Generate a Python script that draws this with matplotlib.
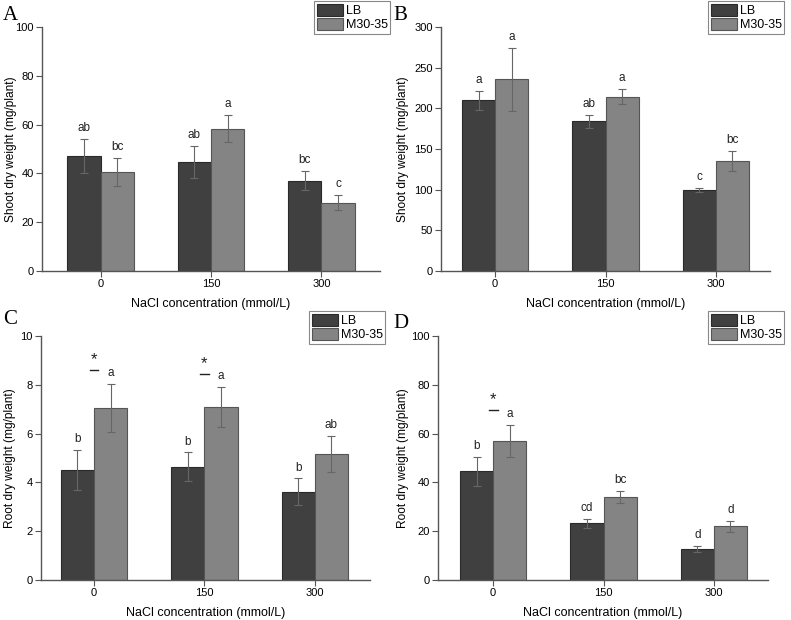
import matplotlib
matplotlib.use('Agg')
import matplotlib.pyplot as plt
import numpy as np
from matplotlib.patches import Patch

plt.rcParams['font.family'] = ['Liberation Sans', 'DejaVu Sans']

categories = ['0', '150', '300']
series_names = ['LB', 'M30-35']

# panel A - shoot dry weight
a_lb = [47.0, 44.8, 37.0]
a_lb_err = [7.0, 6.5, 4.0]
a_m = [40.6, 58.4, 28.0]
a_m_err = [5.6, 5.6, 3.0]
a_lb_letters = ['ab', 'ab', 'bc']
a_m_letters = ['bc', 'a', 'c']

# panel B - shoot dry weight
b_lb = [210.0, 184.0, 99.5]
b_lb_err = [11.5, 8.0, 2.5]
b_m = [235.5, 214.5, 135.5]
b_m_err = [38.5, 9.5, 12.0]
b_lb_letters = ['a', 'ab', 'c']
b_m_letters = ['a', 'a', 'bc']

# panel C - root dry weight
c_lb = [4.5, 4.65, 3.62]
c_lb_err = [0.83, 0.58, 0.54]
c_m = [7.05, 7.08, 5.15]
c_m_err = [0.97, 0.82, 0.74]
c_lb_letters = ['b', 'b', 'b']
c_m_letters = ['a', 'a', 'ab']
c_star = [8.6, 8.43, None]

# panel D - root dry weight
d_lb = [44.5, 23.3, 12.8]
d_lb_err = [6.0, 1.8, 1.2]
d_m = [57.0, 34.0, 22.0]
d_m_err = [6.5, 2.5, 2.2]
d_lb_letters = ['b', 'cd', 'd']
d_m_letters = ['a', 'bc', 'd']
d_star = [69.7, None, None]

dark = '#404040'
light = '#848484'
axcol = '#555555'

fig = plt.figure(figsize=(7.91, 6.2), dpi=100)


def panel(rect, label, lpos, legpos, lb, lb_err, m, m_err, lbl_lb, lbl_m,
          ymax, ystep, ylabel, xlim, ylab_x, star=None):
    ax = fig.add_axes(rect)
    x = np.arange(len(categories))
    w = 0.3
    ax.bar(x - w / 2, lb, w, color=dark, edgecolor='#2a2a2a', linewidth=0.8)
    ax.bar(x + w / 2, m, w, color=light, edgecolor='#555555', linewidth=0.8)
    ax.errorbar(x - w / 2, lb, yerr=lb_err, fmt='none', ecolor='#666666',
                elinewidth=0.8, capsize=3, capthick=0.8)
    ax.errorbar(x + w / 2, m, yerr=m_err, fmt='none', ecolor='#666666',
                elinewidth=0.8, capsize=3, capthick=0.8)
    off = ymax * 0.02
    for i in range(len(categories)):
        ax.text(x[i] - w / 2, lb[i] + lb_err[i] + off, lbl_lb[i],
                ha='center', va='bottom', fontsize=8.5, color='#222222')
        ax.text(x[i] + w / 2, m[i] + m_err[i] + off, lbl_m[i],
                ha='center', va='bottom', fontsize=8.5, color='#222222')
    if star is not None:
        for i, s in enumerate(star):
            if s is None:
                continue
            ax.plot([x[i] - 0.04, x[i] + 0.04], [s, s], color='#222222', lw=1)
            ax.text(x[i], s + ymax * 0.012, '*', ha='center', va='bottom',
                    fontsize=12, color='#222222')
    ax.set_xlim(*xlim)
    ax.set_ylim(0, ymax)
    ax.set_yticks(np.arange(0, ymax + ystep / 2, ystep))
    ax.set_xticks(x)
    ax.set_xticklabels(categories)
    ax.spines['top'].set_visible(False)
    ax.spines['right'].set_visible(False)
    for s in ['left', 'bottom']:
        ax.spines[s].set_color(axcol)
        ax.spines[s].set_linewidth(1.0)
    ax.tick_params(axis='both', direction='out', color=axcol, labelsize=8,
                   length=4, width=0.8, pad=2)
    ax.tick_params(axis='x', pad=1.5)
    ax.set_xlabel('NaCl concentration (mmol/L)', fontsize=9, labelpad=7)
    ax.set_ylabel(ylabel, fontsize=8.6)
    ax.yaxis.set_label_coords(ylab_x, 0.5)
    fig.text(lpos[0], lpos[1], label, fontsize=15, family='Liberation Serif',
             ha='left', va='center')
    handles = [Patch(facecolor=dark, edgecolor='#2a2a2a', linewidth=0.8),
               Patch(facecolor=light, edgecolor='#555555', linewidth=0.8)]
    leg = ax.legend(handles, series_names, loc='upper left',
                    bbox_to_anchor=legpos, bbox_transform=fig.transFigure,
                    fontsize=9, handlelength=2.1, handleheight=1.15,
                    handletextpad=0.25, borderpad=0.2, labelspacing=0.05,
                    borderaxespad=0, fancybox=False, framealpha=1)
    leg.get_frame().set_edgecolor('#888888')
    leg.get_frame().set_linewidth(0.8)
    return ax


W, H = 791.0, 620.0
panel([42 / W, 1 - 271 / H, 338 / W, 244 / H], 'A', (3 / W, 1 - 15 / H),
      (314 / W, 1 - 1 / H), a_lb, a_lb_err, a_m, a_m_err,
      a_lb_letters, a_m_letters, 100, 20, 'Shoot dry weight (mg/plant)',
      (-0.53, 2.53), -0.074)
panel([441 / W, 1 - 271 / H, 329 / W, 244 / H], 'B', (393 / W, 1 - 15 / H),
      (708 / W, 1 - 1 / H), b_lb, b_lb_err, b_m, b_m_err,
      b_lb_letters, b_m_letters, 300, 50, 'Shoot dry weight (mg/plant)',
      (-0.49, 2.49), -0.097)
panel([41 / W, 1 - 580 / H, 329 / W, 244 / H], 'C', (3 / W, 1 - 320 / H),
      (309 / W, 1 - 311 / H), c_lb, c_lb_err, c_m, c_m_err,
      c_lb_letters, c_m_letters, 10, 2, 'Root dry weight (mg/plant)',
      (-0.48, 2.5), -0.076, star=c_star)
panel([438 / W, 1 - 580 / H, 330 / W, 244 / H], 'D', (393 / W, 1 - 323 / H),
      (708 / W, 1 - 311 / H), d_lb, d_lb_err, d_m, d_m_err,
      d_lb_letters, d_m_letters, 100, 20, 'Root dry weight (mg/plant)',
      (-0.5, 2.49), -0.088, star=d_star)

fig.savefig('out.png', dpi=100)
